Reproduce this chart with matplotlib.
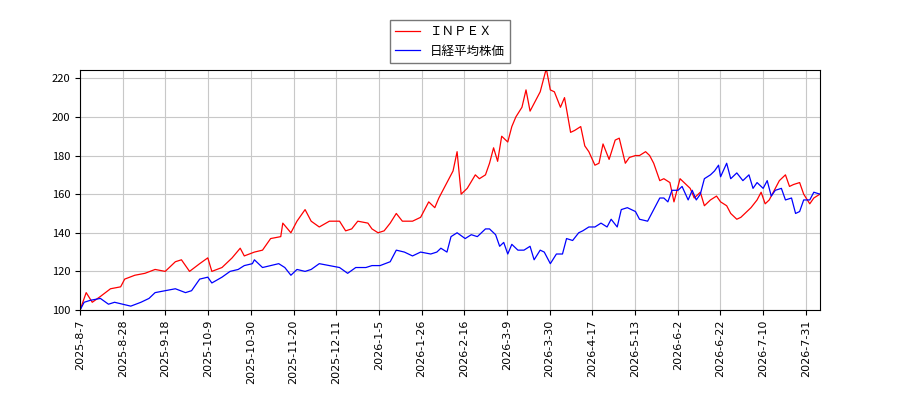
import matplotlib
matplotlib.use("Agg")
import matplotlib.pyplot as plt

plt.rcParams['font.family'] = ['Noto Sans CJK JP', 'DejaVu Sans']

# x positions are trading-session positions (evenly spaced axis)
inpex_pos = [0,3,6,10,15,20,22,27,32,37,42,47,50,54,59,63,65,70,75,79,81,86,90,94,99,100,104,107,111,114,118,123,128,131,134,137,142,144,147,150,153,156,159,164,168,172,175,177,181,184,186,188,191,195,197,200,202,204,206,208,211,213,215,218,220,222,224,227,230,232,234,237,239,242,244,247,249,251,254,256,258,261,264,266,269,271,274,276,279,281,283,286,288,291,293,296,298,301,303,306,308,311,314,316,319,321,324,326,329,331,334,336,338,340,343,345,348,350,352,355,357,360,362,365]
inpex_vals = [100,109,104,107,111,112,116,118,119,121,120,125,126,120,124,127,120,122,127,132,128,130,131,137,138,145,140,146,152,146,143,146,146,141,142,146,145,142,140,141,145,150,146,146,148,156,153,158,166,172,182,160,163,170,168,170,176,184,177,190,187,195,200,205,214,203,207,213,225,214,213,205,210,192,193,195,185,182,175,176,186,178,188,189,176,179,180,180,182,180,176,167,168,166,156,168,166,163,158,161,154,157,159,156,154,150,147,148,151,153,157,161,155,157,163,167,170,164,165,166,160,155,158,160]
nikkei_pos = [0,2,5,10,14,17,21,25,30,34,37,42,47,52,55,59,63,65,70,74,78,81,85,86,90,94,98,101,104,107,111,114,118,123,128,132,136,141,144,148,153,156,160,164,168,173,176,178,181,183,186,190,193,196,200,202,205,207,209,211,213,216,219,222,224,227,229,232,235,238,240,243,246,248,251,254,257,260,262,265,267,270,274,276,280,283,286,288,290,292,295,297,300,302,304,306,308,311,313,315,316,319,321,324,327,330,332,334,337,339,341,343,346,348,351,353,355,357,360,362,365]
nikkei_vals = [100,104,105,106,103,104,103,102,104,106,109,110,111,109,110,116,117,114,117,120,121,123,124,126,122,123,124,122,118,121,120,121,124,123,122,119,122,122,123,123,125,131,130,128,130,129,130,132,130,138,140,137,139,138,142,142,139,133,135,129,134,131,131,133,126,131,130,124,129,129,137,136,140,141,143,143,145,143,147,143,152,153,151,147,146,152,158,158,156,162,162,164,157,162,157,160,168,170,172,175,169,176,168,171,167,170,163,166,163,167,159,162,163,157,158,150,151,157,157,161,160]
tick_dates = ["2025-8-7","2025-8-28","2025-9-18","2025-10-9","2025-10-30","2025-11-20","2025-12-11","2026-1-5","2026-1-26","2026-2-16","2026-3-9","2026-3-30","2026-4-17","2026-5-13","2026-6-2","2026-6-22","2026-7-10","2026-7-31"]

fig = plt.figure(figsize=(9, 4), dpi=100)
ax = fig.add_axes([0.089, 0.225, 0.822, 0.6])
l1, = ax.plot(inpex_pos, inpex_vals, color='red', lw=0.9, label='ＩＮＰＥＸ')
l2, = ax.plot(nikkei_pos, nikkei_vals, color='blue', lw=0.9, label='日経平均株価')
ax.set_xlim(0, 365)
ax.set_ylim(100, 224.3)
ax.set_yticks(range(100, 221, 20))
step = 358 / (len(tick_dates) - 1)
ax.set_xticks([i * step for i in range(len(tick_dates))])
ax.set_xticklabels(tick_dates, rotation=90, fontsize=8, family=['DejaVu Sans'])
ax.tick_params(axis='y', labelsize=8)
ax.grid(True, color='#c8c8c8', lw=0.8)
fig.legend(handles=[l1, l2], loc='upper center', bbox_to_anchor=(0.5, 0.965), fontsize=9, fancybox=False, edgecolor='#555555')
fig.savefig("out.png")
